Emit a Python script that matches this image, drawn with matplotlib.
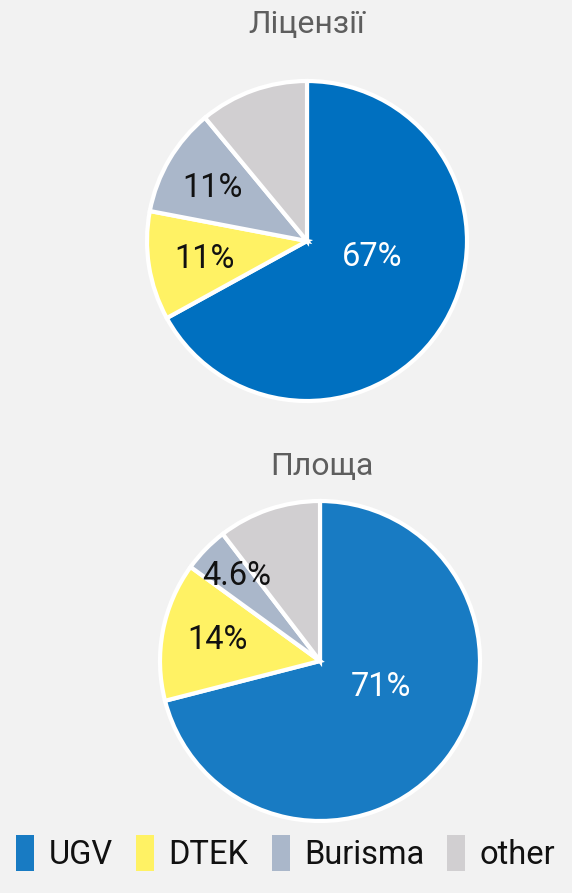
import matplotlib.pyplot as plt
from matplotlib.patches import Patch

plt.rcParams['font.family'] = ['Roboto', 'DejaVu Sans']

companies = ['UGV', 'DTEK', 'Burisma', 'other']
licences = [67, 11, 11, 11]
licence_labels = ['67%', '11%', '11%', '']
area = [71, 14, 4.6, 10.4]
area_labels = ['71%', '14%', '4.6%', '']

colors_top = ['#0070c0', '#fff264', '#aab7ca', '#d1cfd1']
colors_bot = ['#187bc3', '#fff264', '#aab7ca', '#d1cfd1']
bg = '#f2f2f2'

fig = plt.figure(figsize=(5.72, 8.93), dpi=100, facecolor=bg)
W, H = 572, 893


def pie_axes(cx, cy, r):
    side = r * 2.5
    return fig.add_axes([(cx - side / 2) / W, (H - cy - side / 2) / H, side / W, side / H])


def draw(ax, values, labels, colors, pos):
    wedges, _ = ax.pie(values, colors=colors, startangle=90, counterclock=False,
                       wedgeprops=dict(edgecolor='white', linewidth=3))
    ax.set_xlim(-1.25, 1.25)
    ax.set_ylim(-1.25, 1.25)
    for i, lab in enumerate(labels):
        if not lab:
            continue
        ax.text(pos[i][0], pos[i][1], lab, ha='center', va='center', fontsize=23.5,
                color='white' if i == 0 else '#111111')


ax1 = pie_axes(307, 241, 160)
draw(ax1, licences, licence_labels, colors_top,
     [(0.41, -0.10), (-0.64, -0.11), (-0.59, 0.33)])
ax2 = pie_axes(320, 661, 160)
draw(ax2, area, area_labels, colors_bot,
     [(0.38, -0.16), (-0.64, 0.13), (-0.52, 0.53)])

fig.text(307 / W, 1 - 24 / H, 'Ліцензії', ha='center', va='center', fontsize=23,
         color='#5e5e5e')
fig.text(322 / W, 1 - 466 / H, 'Площа', ha='center', va='center', fontsize=23,
         color='#5e5e5e')

handles = [Patch(facecolor=c, edgecolor='none') for c in colors_bot]
fig.legend(handles, companies, loc='lower center', bbox_to_anchor=(0.5, -0.008), ncol=4,
           frameon=False, fontsize=23.5, handlelength=0.55, handleheight=1.3,
           handletextpad=0.45, columnspacing=0.7, labelcolor='#111111')

fig.savefig('out.png', dpi=100, facecolor=bg)
